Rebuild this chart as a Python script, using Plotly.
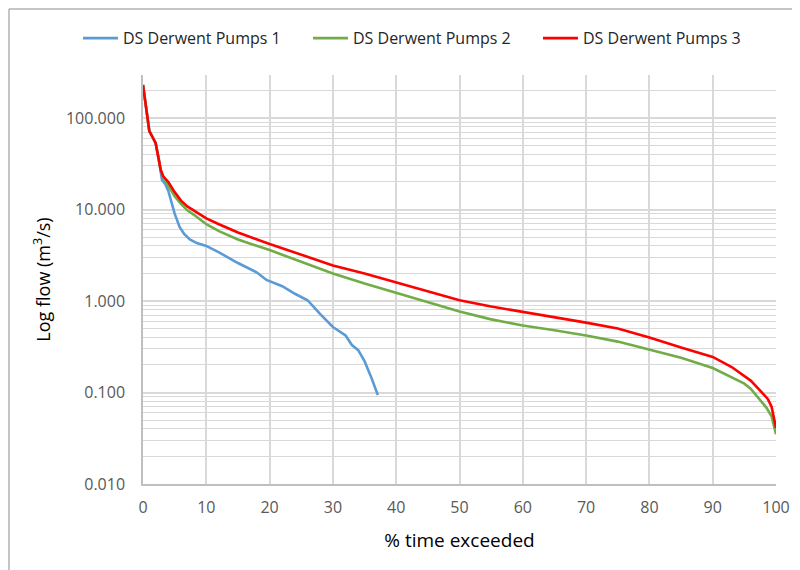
import plotly.graph_objects as go

# ---- data ----
x_pumps1 = [0, 0.5, 1, 1.5, 2, 2.5, 2.8, 3, 3.5, 4, 4.5, 5, 5.8, 6.5, 7.4, 8.5, 10, 12, 15, 17, 18,
            19.5, 22, 24, 26, 28, 30, 32, 33, 34, 35, 36, 36.8, 37.1]
y_pumps1 = [230, 120, 72, 62, 53, 35, 27, 21, 19, 16, 12, 9, 6.4, 5.4, 4.7, 4.3, 4.0, 3.4, 2.6, 2.2, 2.05,
            1.7, 1.45, 1.2, 1.02, 0.72, 0.52, 0.42, 0.33, 0.29, 0.22, 0.15, 0.11, 0.094]

x_pumps2 = [0, 0.5, 1, 1.5, 2, 2.5, 2.8, 3.2, 4, 5, 6, 7, 8, 10, 12, 15, 20, 25, 30, 35, 40, 45, 50,
            55, 60, 65, 70, 75, 80, 85, 90, 93, 95, 96, 97, 98.5, 99.3, 100]
y_pumps2 = [230, 120, 72, 62, 53, 35, 27, 22.5, 18.5, 14, 11.5, 9.8, 8.8, 6.9, 5.8, 4.7, 3.6, 2.7, 2.0,
            1.55, 1.22, 0.97, 0.77, 0.63, 0.54, 0.48, 0.42, 0.36, 0.295, 0.24, 0.185, 0.147, 0.125,
            0.11, 0.09, 0.068, 0.055, 0.035]

x_pumps3 = [0, 0.5, 1, 1.5, 2, 2.5, 2.8, 3.2, 4, 5, 6, 7, 8, 10, 12, 15, 20, 25, 30, 35, 40, 45, 50,
            55, 60, 65, 70, 75, 80, 85, 90, 93, 96, 97.5, 98.7, 99.3, 100]
y_pumps3 = [230, 120, 72, 62, 53, 35, 27, 23, 20, 15.5, 12.5, 10.8, 9.8, 8.0, 6.9, 5.6, 4.2, 3.2, 2.45,
            2.0, 1.6, 1.27, 1.02, 0.87, 0.76, 0.67, 0.58, 0.5, 0.4, 0.31, 0.245, 0.19, 0.135, 0.105,
            0.085, 0.07, 0.041]

series_names = ["DS Derwent Pumps 1", "DS Derwent Pumps 2", "DS Derwent Pumps 3"]
series_colors = ["#5B9BD5", "#70AD47", "#FF0000"]

y_tick_vals = [0.01, 0.1, 1, 10, 100]
y_tick_text = ["0.010", "0.100", "1.000", "10.000", "100.000"]
x_tick_vals = [0, 10, 20, 30, 40, 50, 60, 70, 80, 90, 100]

FONT = "Open Sans"
minor_vals = [m * 10 ** e for e in range(-2, 3) for m in range(2, 10)]

fig = go.Figure()
for xs, ys, name, col in zip([x_pumps1, x_pumps2, x_pumps3],
                             [y_pumps1, y_pumps2, y_pumps3],
                             series_names, series_colors):
    fig.add_trace(go.Scatter(x=xs, y=ys, name=name, mode="lines",
                             line=dict(color=col, width=2.6)))

# page has an 8px body margin, so the figure is 792x562 and margins are offset by 8
fig.update_layout(
    width=792, height=562,
    margin=dict(l=135, r=24, t=67, b=86),
    paper_bgcolor="white", plot_bgcolor="white",
    font=dict(family=FONT, color="#595959", size=14),
    legend=dict(orientation="h", x=-0.1027, xanchor="left", y=1.09, yanchor="middle",
                bgcolor="rgba(0,0,0,0)",
                font=dict(family=FONT, size=16, color="#262626"),
                entrywidth=180, itemwidth=35, tracegroupgap=0),
    shapes=[dict(type="rect", xref="paper", yref="paper",
                 x0=-0.2117, x1=1.2, y0=-0.4, y1=1.1614,
                 line=dict(color="#8c8c8c", width=1), fillcolor="rgba(0,0,0,0)", layer="below")],
)

fig.update_xaxes(range=[0, 100], tickvals=x_tick_vals, showgrid=True, gridcolor="#d9d9d9",
                 gridwidth=1.5, showline=True, linecolor="#bfbfbf", linewidth=1.5, zeroline=False,
                 ticks="", ticklabelstandoff=8, tickfont=dict(size=16, color="#595959"),
                 automargin=False,
                 title=dict(text="% time exceeded", font=dict(size=19, color="#000000"), standoff=17))

fig.update_yaxes(type="log", range=[-2, 2.47], tickvals=y_tick_vals, ticktext=y_tick_text,
                 showgrid=True, gridcolor="#d9d9d9", gridwidth=1.5, showline=True,
                 linecolor="#bfbfbf", linewidth=1.5, zeroline=False, ticks="",
                 ticklabelstandoff=13, tickfont=dict(size=16, color="#595959"),
                 automargin=False,
                 minor=dict(tickvals=minor_vals, showgrid=True, gridcolor="#d9d9d9", gridwidth=1),
                 title=dict(text="Log flow (m<sup>3</sup>/s)", font=dict(size=18, color="#000000"),
                            standoff=11))

fig.write_html("out.html")
